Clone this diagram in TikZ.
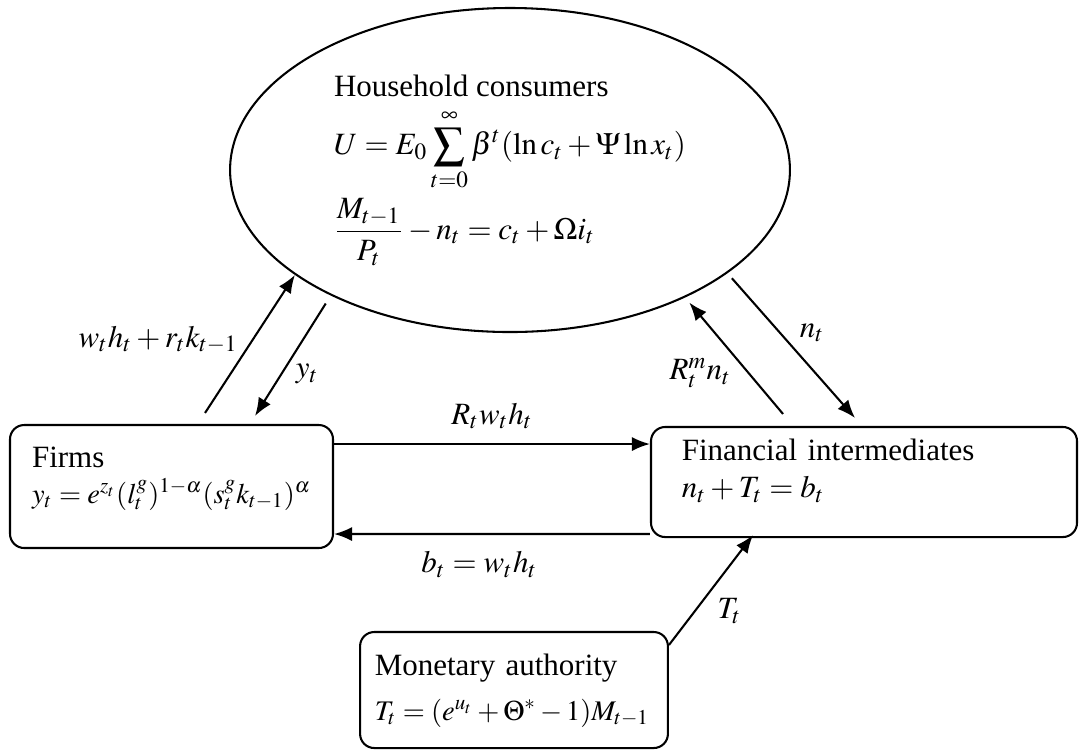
\documentclass[tikz,border=0pt]{standalone}
\usepackage{mathptmx}
\usepackage[no-math]{fontspec}
\setmainfont{Liberation Serif}
\usetikzlibrary{shapes.geometric, arrows.meta}
\tikzset{
    household/.style={
        draw, ellipse, line width=0.8pt, align=left, inner sep=0pt,
        minimum width=7.62cm, minimum height=4.41cm
    },
    sector/.style={
        draw, line width=0.8pt, rounded corners=5.5pt, align=left,
        inner ysep=0pt
    },
    flow/.style={-{Latex[length=7pt, width=5.5pt]}, line width=0.8pt}
}
\newcommand{\boxeq}[1]{\mbox{\fontsize{11pt}{13pt}\selectfont$#1$}}

\begin{document}
\begin{tikzpicture}[x=0.01361cm, y=-0.01361cm, font=\fontsize{12pt}{15pt}\selectfont]

\useasboundingbox (0,0) rectangle (1079,752);

% Dibujar los agentes.
\node[household] (house) at (510,170) {Household consumers\\[4pt]
    $\displaystyle U = E_0\sum_{t=0}^{\infty}\beta^{t}(\ln c_t + \Psi\ln x_t)$\\[2pt]
    $\displaystyle \frac{M_{t-1}}{P_t} - n_t = c_t + \Omega i_t$};
\node[sector, text width=3.796cm, inner xsep=0.3cm,
    text height=0.572cm, text depth=1.102cm] (firms) at (171.5,486.5) {Firms\\[-1pt]
    \boxeq{y_t = e^{z_t}(l_t^{g})^{1-\alpha}(s_t^{g}k_{t-1})^{\alpha}}};
\node[sector, text width=4.958cm, inner xsep=0.42cm,
    text height=0.45cm, text depth=1.048cm] (fin) at (864,482) {Financial intermediates\\[-0.5pt]
    \mbox{$n_t + T_t = b_t$}};
\node[sector, text width=3.79cm, inner xsep=0.2cm,
    text height=0.585cm, text depth=0.994cm] (mon) at (514,690) {Monetary authority\\[2.5pt]
    \boxeq{T_t = (e^{u_t} + \Theta^{*} - 1)M_{t-1}}};

% Flujos entre hogares y empresas.
\draw[flow] ([shift={(33.5,-11)}]firms.north) -- (house.206)
    node[pos=0.53, left=2pt] (wage) {$w_t h_t + r_t k_{t-1}$};
\draw[flow] ([shift={(-5,8)}]house.215) -- ([shift={(83.5,-8)}]firms.north)
    node[pos=0.63, right=2pt] (output) {$y_t$};

% Flujos entre hogares e intermediarios.
\draw[flow] ([shift={(-81,-12)}]fin.north) -- ([shift={(0,7)}]house.325)
    node[pos=0.37, left=3pt] (interest) {$R_t^{m} n_t$};
\draw[flow] ([shift={(-1,9)}]house.336) -- ([shift={(-9,-8)}]fin.north)
    node[pos=0.39, right=4pt] (deposit) {$n_t$};

% Flujos entre empresas e intermediarios.
\draw[flow] ([shift={(0,-42.5)}]firms.east) -- ([shift={(0,-38)}]fin.west)
    node[midway, above=2pt] (repay) {$R_t w_t h_t$};
\draw[flow] ([shift={(0,52)}]fin.west) -- ([shift={(0,47.5)}]firms.east)
    node[pos=0.54, below=3pt] (loan) {$b_t = w_t h_t$};

% Transferencia de la autoridad monetaria.
\draw[flow] ([shift={(0,14)}]mon.north east) -- ([shift={(-111,-3)}]fin.south)
    node[pos=0.31, right=5pt] (transfer) {$T_t$};

\end{tikzpicture}
\end{document}
